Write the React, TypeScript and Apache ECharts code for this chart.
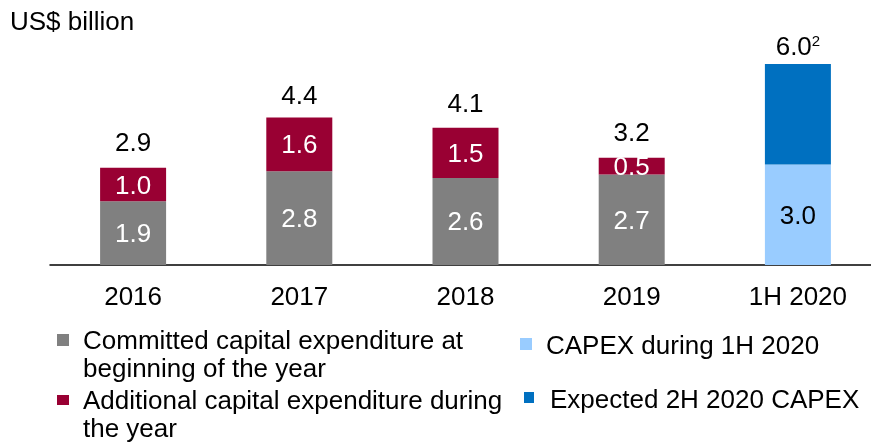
import React, { useEffect, useRef } from "react";
import * as echarts from "echarts";

const categories = ["2016", "2017", "2018", "2019", "1H 2020"];
const committed = [1.9, 2.8, 2.6, 2.7, null];
const additional = [1.0, 1.6, 1.5, 0.5, null];
const capex1H = [null, null, null, null, 3.0];
const capex2H = [null, null, null, null, 3.0];
const totals = [2.9, 4.4, 4.1, 3.2, 6.0];
const totalLabelGaps = [12, 9, 11, 12, 5];

const seriesNames = {
  committed: "Committed capital expenditure at beginning of the year",
  additional: "Additional capital expenditure during the year",
  capex1H: "CAPEX during 1H 2020",
  capex2H: "Expected 2H 2020 CAPEX",
};
const legendLines: Record<string, string[]> = {
  [seriesNames.committed]: ["Committed capital expenditure at", "beginning of the year"],
  [seriesNames.additional]: ["Additional capital expenditure during", "the year"],
  [seriesNames.capex1H]: ["CAPEX during 1H 2020"],
  [seriesNames.capex2H]: ["Expected 2H 2020 CAPEX"],
};

const FONT = "'Liberation Sans', Arial, sans-serif";
const FS = 26;

export default function App() {
  const ref = useRef<HTMLDivElement>(null);
  useEffect(() => {
    if (!ref.current) return;
    const chart = echarts.init(ref.current, null, { renderer: "svg" });
    const barLabel = (color: string) => ({
      show: true,
      position: "inside",
      color,
      fontSize: FS,
      fontFamily: FONT,
      formatter: (p: any) => Number(p.value).toFixed(1),
    });
    const mkLegend = (
      name: string,
      left: number,
      top: number,
      w: number,
      h: number,
      multi: boolean,
      padLeft: number,
      padTop: number
    ) => ({
      show: true,
      orient: "vertical",
      left,
      top,
      padding: 0,
      itemWidth: w,
      itemHeight: h,
      icon: "rect",
      selectedMode: false,
      data: [name],
      formatter: (n: string) => legendLines[n].map((l) => `{t|${l}}`).join("\n"),
      textStyle: {
        fontSize: FS,
        fontFamily: FONT,
        color: "#000",
        lineHeight: 28,
        padding: multi ? [28 + padTop, 0, 0, padLeft] : [padTop, 0, 0, padLeft],
        rich: {
          t: { fontSize: FS, fontFamily: FONT, color: "#000", lineHeight: 28 },
        },
      },
    });
    chart.setOption({
      animation: false,
      title: {
        text: "US$ billion",
        left: 10,
        top: 8,
        padding: 0,
        textStyle: { fontSize: FS, fontFamily: FONT, fontWeight: "normal", color: "#000" },
      },
      grid: { left: 50, right: 0, top: 64, bottom: 179, containLabel: false },
      xAxis: {
        type: "category",
        data: categories,
        axisLine: { show: true, lineStyle: { color: "#000", width: 1.5 } },
        axisTick: { show: false },
        axisLabel: { margin: 18, fontSize: FS, fontFamily: FONT, color: "#000" },
      },
      yAxis: { type: "value", min: 0, max: 6, show: false, splitLine: { show: false } },
      legend: [
        mkLegend(seriesNames.committed, 57, 298, 12, 12, true, 9, 0),
        mkLegend(seriesNames.additional, 57, 358, 12, 10, true, 9, 0),
        mkLegend(seriesNames.capex1H, 520, 329, 12, 12, false, 9, 2),
        mkLegend(seriesNames.capex2H, 524, 382, 10, 11, false, 11, 3),
      ],
      series: [
        {
          name: seriesNames.committed,
          type: "bar",
          stack: "t",
          barWidth: 66,
          data: committed.map((v) => (v == null ? "-" : v)),
          itemStyle: { color: "#808080" },
          label: barLabel("#fff"),
        },
        {
          name: seriesNames.additional,
          type: "bar",
          stack: "t",
          barWidth: 66,
          data: additional.map((v) => (v == null ? "-" : v)),
          itemStyle: { color: "#990033" },
          label: barLabel("#fff"),
        },
        {
          name: seriesNames.capex1H,
          type: "bar",
          stack: "t",
          barWidth: 66,
          data: capex1H.map((v) => (v == null ? "-" : v)),
          itemStyle: { color: "#99CCFF" },
          label: barLabel("#000"),
        },
        {
          name: seriesNames.capex2H,
          type: "bar",
          stack: "t",
          barWidth: 66,
          data: capex2H.map((v) => (v == null ? "-" : v)),
          itemStyle: { color: "#0070C0" },
          label: { show: false },
        },
        {
          name: "Total",
          type: "scatter",
          symbol: "circle",
          symbolSize: 1,
          silent: true,
          itemStyle: { color: "rgba(0,0,0,0)", opacity: 1 },
          data: totals.map((v, i) => ({
            value: v,
            label: { distance: totalLabelGaps[i] },
          })),
          label: {
            show: true,
            position: "top",
            fontSize: FS,
            fontFamily: FONT,
            color: "#000",
            opacity: 1,
            formatter: (p: any) =>
              p.dataIndex === totals.length - 1
                ? `{n|${Number(p.value).toFixed(1)}}{s|2}`
                : `{n|${Number(p.value).toFixed(1)}}`,
            rich: {
              n: { fontSize: FS, fontFamily: FONT, color: "#000" },
              s: { fontSize: 15, fontFamily: FONT, color: "#000", verticalAlign: "top" },
            },
          },
        },
      ],
    });
    return () => chart.dispose();
  }, []);
  return (
    <div
      ref={ref}
      style={{ position: "fixed", left: 0, top: 0, width: 881, height: 444 }}
    />
  );
}
